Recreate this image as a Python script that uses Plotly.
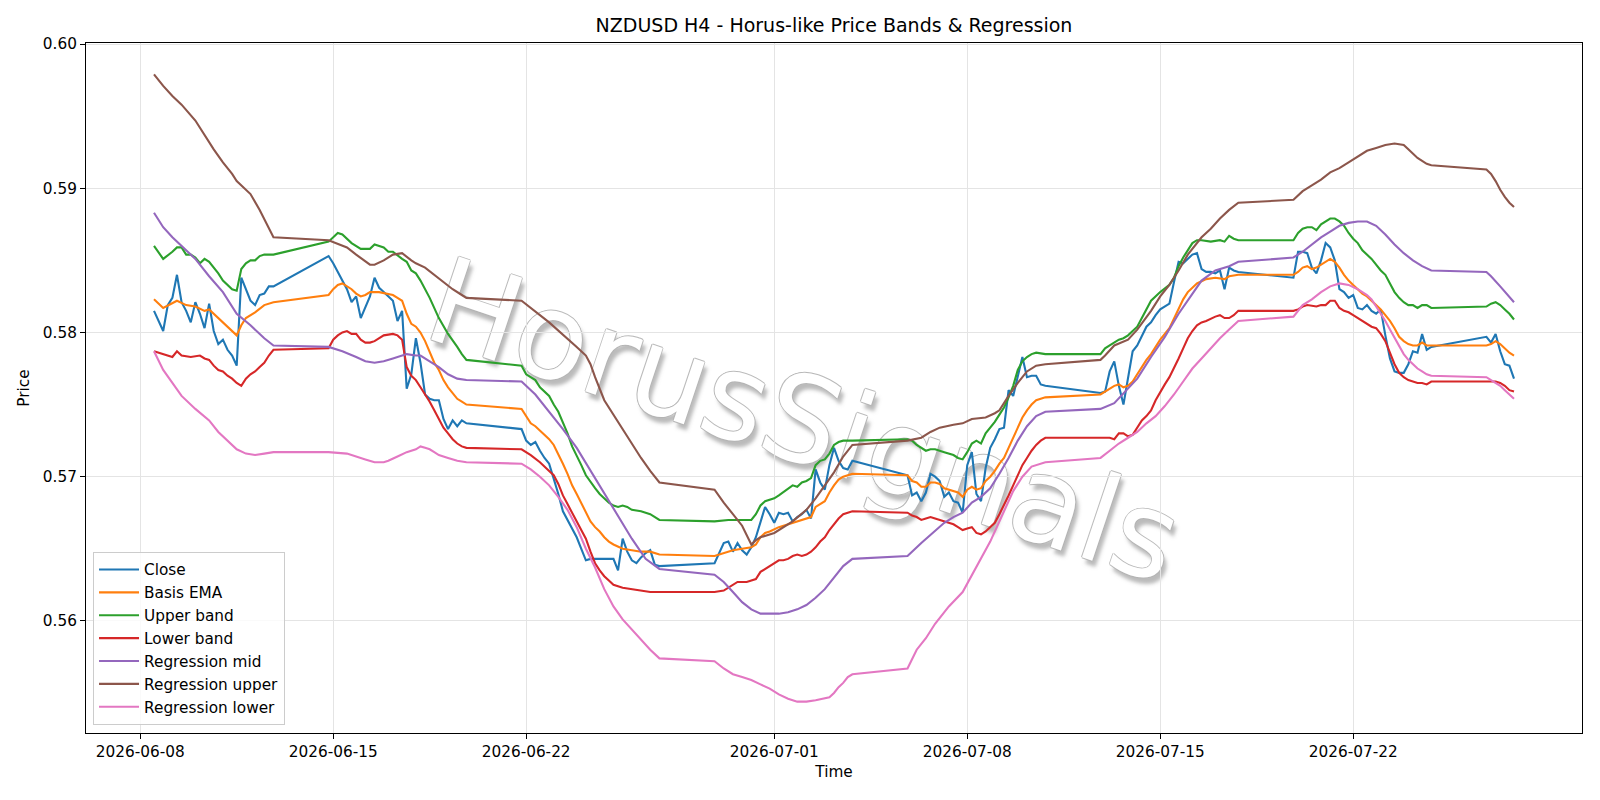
import pandas as pd
import plotly.graph_objects as go

TITLE = "NZDUSD H4 - Horus-like Price Bands & Regression"
WATERMARK = "HorusSignals"
FIRST_BAR = "2026-06-08 12:00"
LAST_BAR = "2026-07-27 20:00"
X_TICKS = ["2026-06-08", "2026-06-15", "2026-06-22", "2026-07-01",
           "2026-07-08", "2026-07-15", "2026-07-22"]
Y_TICKS = [0.56, 0.57, 0.58, 0.59, 0.60]

# H4 bar timestamps (market closed from Friday 20:00 to Sunday 20:00)
_grid = pd.date_range(FIRST_BAR, LAST_BAR, freq="4h")
_open = ~((_grid.dayofweek == 5) | ((_grid.dayofweek == 6) & (_grid.hour < 20)))
TIMES = _grid[_open]

# Close price, one value per bar, week by week
CLOSE_W1 = [0.5815, 0.5808, 0.5801, 0.5819, 0.5824, 0.5840, 0.5821, 0.5815, 0.5807, 0.5821,
            0.5813, 0.5803, 0.5820, 0.5801, 0.5792, 0.5795, 0.5788, 0.5784, 0.5777, 0.5838,
            0.5830, 0.5822, 0.5819, 0.5826, 0.5827, 0.5832, 0.5832]
CLOSE_W2 = [0.5853, 0.5848, 0.5842, 0.5836, 0.5830, 0.5821, 0.5825, 0.5810, 0.5817, 0.5825,
            0.5838, 0.5831, 0.5828, 0.5825, 0.5822, 0.5808, 0.5815, 0.5761, 0.5771, 0.5796,
            0.5779, 0.5757, 0.5754, 0.5753, 0.5753, 0.5740, 0.5733, 0.5739, 0.5735, 0.5739, 0.5737]
CLOSE_W3 = [0.5733, 0.5725, 0.5722, 0.5724, 0.5718, 0.5713, 0.5709, 0.5699, 0.5688, 0.5676,
            0.5670, 0.5664, 0.5658, 0.5650, 0.5642, 0.5643, 0.5643, 0.5643, 0.5643, 0.5643,
            0.5643, 0.5635, 0.5657, 0.5648, 0.5642, 0.5640, 0.5644, 0.5647, 0.5649, 0.5639, 0.5638]
CLOSE_W4 = [0.5640, 0.5647, 0.5654, 0.5655, 0.5648, 0.5654, 0.5649, 0.5646, 0.5651, 0.5658,
            0.5669, 0.5679, 0.5674, 0.5668, 0.5675, 0.5674, 0.5675, 0.5669, 0.5672, 0.5674,
            0.5677, 0.5671, 0.5705, 0.5696, 0.5691, 0.5708, 0.5720, 0.5711, 0.5706, 0.5705, 0.5711]
CLOSE_W5 = [0.5701, 0.5687, 0.5689, 0.5683, 0.5689, 0.5702, 0.5700, 0.5697, 0.5686, 0.5689,
            0.5683, 0.5682, 0.5675, 0.5708, 0.5717, 0.5688, 0.5683, 0.5706, 0.5720, 0.5726,
            0.5733, 0.5734, 0.5760, 0.5756, 0.5769, 0.5783, 0.5769, 0.5770, 0.5770, 0.5764, 0.5763]
CLOSE_W6 = [0.5758, 0.5759, 0.5773, 0.5780, 0.5763, 0.5750, 0.5770, 0.5787, 0.5791, 0.5798,
            0.5804, 0.5807, 0.5812, 0.5816, 0.5818, 0.5820, 0.5835, 0.5849, 0.5848, 0.5851,
            0.5854, 0.5855, 0.5844, 0.5842, 0.5842, 0.5841, 0.5843, 0.5830, 0.5845, 0.5843, 0.5842]
CLOSE_W7 = [0.5838, 0.5856, 0.5856, 0.5855, 0.5845, 0.5841, 0.5850, 0.5862, 0.5859, 0.5850,
            0.5830, 0.5828, 0.5824, 0.5826, 0.5817, 0.5816, 0.5819, 0.5815, 0.5813, 0.5816,
            0.5798, 0.5782, 0.5773, 0.5772, 0.5772, 0.5778, 0.5787, 0.5786, 0.5799, 0.5788, 0.5790]
CLOSE_W8 = [0.5797, 0.5793, 0.5799, 0.5787, 0.5778, 0.5777, 0.5768]
CLOSE = CLOSE_W1 + CLOSE_W2 + CLOSE_W3 + CLOSE_W4 + CLOSE_W5 + CLOSE_W6 + CLOSE_W7 + CLOSE_W8

# Indicator lines, read as (bar number, value) vertices
BASIS_EMA = [(0, 0.5823), (2, 0.5817), (5, 0.5822), (7, 0.5819), (9, 0.5818), (11, 0.5815), (12, 0.5816),
             (14, 0.5810), (16, 0.5804), (18, 0.5798), (19, 0.5805), (20, 0.5810), (22, 0.5814), (24, 0.5819),
             (26, 0.5821), (27, 0.5826), (28, 0.5830), (29, 0.5833), (30, 0.5834), (31, 0.5832), (32, 0.5830),
             (33, 0.5827), (34, 0.5825), (35, 0.5826), (36, 0.5828), (38, 0.5828), (40, 0.5827), (41, 0.5826),
             (42, 0.5824), (43, 0.5822), (44, 0.5813), (45, 0.5806), (46, 0.5804), (47, 0.5800), (48, 0.5794),
             (49, 0.5786), (50, 0.5779), (51, 0.5774), (52, 0.5767), (53, 0.5762), (54, 0.5758), (55, 0.5754),
             (56, 0.5752), (57, 0.5750), (58, 0.5747), (59, 0.5742), (60, 0.5737), (61, 0.5735), (62, 0.5732),
             (63, 0.5729), (64, 0.5726), (65, 0.5722), (66, 0.5716), (67, 0.5709), (68, 0.5702), (69, 0.5694),
             (70, 0.5688), (71, 0.5682), (72, 0.5675), (73, 0.5669), (74, 0.5665), (75, 0.5662), (76, 0.5658),
             (77, 0.5655), (78, 0.5653), (80, 0.5650), (82, 0.5649), (84, 0.5648), (86, 0.5648), (88, 0.5646),
             (89, 0.5645), (91, 0.5647), (93, 0.5649), (95, 0.5650), (97, 0.5651), (98, 0.5653), (99, 0.5658),
             (100, 0.5661), (101, 0.5662), (103, 0.5665), (105, 0.5667), (107, 0.5669), (109, 0.5671),
             (110, 0.5672), (111, 0.5679), (112, 0.5681), (113, 0.5683), (114, 0.5689), (115, 0.5694),
             (116, 0.5698), (117, 0.5700), (118, 0.5701), (119, 0.5702), (120, 0.5701), (121, 0.5697),
             (122, 0.5696), (123, 0.5693), (124, 0.5693), (125, 0.5696), (126, 0.5696), (127, 0.5695),
             (128, 0.5692), (129, 0.5691), (130, 0.5690), (131, 0.5689), (132, 0.5686), (133, 0.5691),
             (134, 0.5693), (135, 0.5691), (136, 0.5692), (137, 0.5697), (138, 0.5700), (139, 0.5704),
             (140, 0.5709), (141, 0.5713), (142, 0.5720), (143, 0.5727), (144, 0.5733), (145, 0.5741),
             (146, 0.5746), (147, 0.5750), (148, 0.5753), (149, 0.5754), (150, 0.5755), (151, 0.5757),
             (152, 0.5759), (153, 0.5761), (154, 0.5763), (155, 0.5764), (156, 0.5762), (157, 0.5763),
             (158, 0.5766), (159, 0.5771), (160, 0.5776), (161, 0.5781), (162, 0.5785), (164, 0.5795),
             (166, 0.5803), (167, 0.5810), (168, 0.5817), (169, 0.5823), (170, 0.5828), (171, 0.5831),
             (172, 0.5834), (174, 0.5837), (176, 0.5838), (178, 0.5837), (179, 0.5839), (181, 0.5840),
             (182, 0.5840), (183, 0.5842), (184, 0.5845), (185, 0.5846), (186, 0.5844), (187, 0.5845),
             (188, 0.5847), (189, 0.5849), (190, 0.5851), (191, 0.5849), (192, 0.5845), (193, 0.5840),
             (194, 0.5836), (195, 0.5833), (196, 0.5830), (197, 0.5827), (198, 0.5825), (199, 0.5822),
             (200, 0.5819), (201, 0.5816), (202, 0.5812), (203, 0.5808), (204, 0.5803), (205, 0.5797),
             (206, 0.5794), (207, 0.5792), (208, 0.5791), (209, 0.5791), (210, 0.5793), (211, 0.5791),
             (212, 0.5791), (213, 0.5791), (214, 0.5792), (215, 0.5794), (216, 0.5792), (217, 0.5789),
             (218, 0.5786), (219, 0.5784)]

UPPER_BAND = [(0, 0.5860), (2, 0.5851), (4, 0.5856), (5, 0.5859), (6, 0.5859), (7, 0.5854), (8, 0.5854),
              (9, 0.5852), (10, 0.5848), (11, 0.5851), (12, 0.5849), (13, 0.5845), (14, 0.5841), (15, 0.5836),
              (16, 0.5833), (17, 0.5830), (18, 0.5829), (19, 0.5844), (20, 0.5848), (21, 0.5850), (22, 0.5850),
              (23, 0.5853), (24, 0.5854), (26, 0.5854), (27, 0.5863), (29, 0.5869), (30, 0.5868), (32, 0.5862),
              (34, 0.5858), (36, 0.5858), (37, 0.5861), (38, 0.5860), (39, 0.5859), (40, 0.5856), (41, 0.5856),
              (43, 0.5851), (44, 0.5849), (45, 0.5843), (46, 0.5841), (47, 0.5836), (49, 0.5824), (51, 0.5810),
              (53, 0.5799), (55, 0.5790), (56, 0.5785), (57, 0.5781), (58, 0.5777), (59, 0.5771), (61, 0.5767),
              (62, 0.5762), (64, 0.5756), (65, 0.5750), (66, 0.5745), (68, 0.5730), (69, 0.5721), (71, 0.5708),
              (72, 0.5701), (74, 0.5692), (75, 0.5688), (77, 0.5682), (78, 0.5680), (79, 0.5679), (80, 0.5680),
              (81, 0.5679), (82, 0.5677), (84, 0.5676), (86, 0.5674), (88, 0.5670), (89, 0.5669), (92, 0.5670),
              (95, 0.5670), (97, 0.5670), (98, 0.5674), (99, 0.5680), (100, 0.5683), (102, 0.5685),
              (103, 0.5687), (105, 0.5692), (106, 0.5694), (107, 0.5693), (108, 0.5696), (109, 0.5697),
              (110, 0.5699), (111, 0.5708), (112, 0.5711), (113, 0.5712), (114, 0.5716), (115, 0.5722),
              (116, 0.5724), (117, 0.5725), (119, 0.5725), (120, 0.5726), (121, 0.5725), (122, 0.5722),
              (123, 0.5720), (124, 0.5718), (125, 0.5719), (126, 0.5719), (128, 0.5717), (130, 0.5715),
              (131, 0.5713), (132, 0.5712), (133, 0.5717), (134, 0.5723), (135, 0.5725), (136, 0.5723),
              (137, 0.5730), (138, 0.5734), (139, 0.5738), (140, 0.5743), (141, 0.5748), (142, 0.5755),
              (143, 0.5763), (144, 0.5774), (145, 0.5780), (146, 0.5783), (147, 0.5785), (148, 0.5786),
              (150, 0.5785), (151, 0.5785), (152, 0.5789), (153, 0.5791), (154, 0.5793), (155, 0.5795),
              (156, 0.5796), (157, 0.5798), (158, 0.5801), (159, 0.5804), (160, 0.5810), (161, 0.5816),
              (162, 0.5822), (164, 0.5828), (166, 0.5833), (167, 0.5838), (168, 0.5846), (169, 0.5852),
              (170, 0.5857), (171, 0.5862), (172, 0.5864), (173, 0.5864), (175, 0.5863), (177, 0.5864),
              (178, 0.5863), (179, 0.5867), (180, 0.5865), (181, 0.5864), (182, 0.5864), (183, 0.5869),
              (184, 0.5872), (185, 0.5873), (186, 0.5873), (187, 0.5871), (188, 0.5875), (189, 0.5877),
              (190, 0.5879), (191, 0.5879), (192, 0.5877), (193, 0.5874), (194, 0.5869), (195, 0.5865),
              (196, 0.5862), (197, 0.5857), (199, 0.5851), (201, 0.5843), (202, 0.5840), (203, 0.5834),
              (204, 0.5828), (205, 0.5824), (206, 0.5821), (207, 0.5819), (208, 0.5819), (209, 0.5817),
              (210, 0.5819), (211, 0.5819), (212, 0.5817), (213, 0.5818), (214, 0.5820), (215, 0.5821),
              (216, 0.5819), (217, 0.5816), (218, 0.5813), (219, 0.5809)]

LOWER_BAND = [(0, 0.5787), (2, 0.5785), (4, 0.5783), (5, 0.5787), (6, 0.5784), (8, 0.5783), (10, 0.5784),
              (11, 0.5782), (12, 0.5781), (13, 0.5777), (14, 0.5774), (15, 0.5773), (16, 0.5770), (17, 0.5768),
              (18, 0.5765), (19, 0.5763), (20, 0.5768), (21, 0.5771), (22, 0.5773), (23, 0.5776), (24, 0.5779),
              (25, 0.5784), (26, 0.5788), (27, 0.5789), (28, 0.5795), (29, 0.5798), (30, 0.5800), (31, 0.5801),
              (32, 0.5799), (33, 0.5799), (34, 0.5795), (35, 0.5793), (36, 0.5793), (37, 0.5794), (38, 0.5796),
              (39, 0.5798), (41, 0.5799), (42, 0.5798), (43, 0.5795), (44, 0.5776), (45, 0.5770), (46, 0.5767),
              (47, 0.5762), (48, 0.5757), (49, 0.5752), (50, 0.5746), (51, 0.5740), (52, 0.5734), (53, 0.5730),
              (54, 0.5726), (55, 0.5723), (56, 0.5721), (57, 0.5720), (58, 0.5719), (60, 0.5715), (62, 0.5710),
              (64, 0.5704), (65, 0.5701), (66, 0.5695), (67, 0.5687), (68, 0.5681), (69, 0.5675), (70, 0.5670),
              (71, 0.5664), (72, 0.5657), (73, 0.5648), (74, 0.5640), (75, 0.5635), (76, 0.5631), (77, 0.5628),
              (78, 0.5625), (80, 0.5623), (82, 0.5622), (84, 0.5621), (86, 0.5620), (88, 0.5620), (89, 0.5620),
              (91, 0.5621), (92, 0.5623), (93, 0.5625), (94, 0.5627), (96, 0.5627), (97, 0.5628), (98, 0.5629),
              (99, 0.5634), (100, 0.5636), (101, 0.5638), (102, 0.5640), (103, 0.5642), (104, 0.5642),
              (105, 0.5643), (106, 0.5645), (107, 0.5646), (108, 0.5645), (109, 0.5646), (110, 0.5648),
              (111, 0.5651), (112, 0.5655), (113, 0.5658), (114, 0.5663), (115, 0.5667), (116, 0.5671),
              (117, 0.5674), (118, 0.5675), (119, 0.5676), (120, 0.5675), (121, 0.5673), (122, 0.5672),
              (123, 0.5670), (124, 0.5671), (125, 0.5672), (126, 0.5671), (127, 0.5670), (128, 0.5669),
              (129, 0.5668), (130, 0.5667), (131, 0.5665), (132, 0.5663), (133, 0.5664), (134, 0.5665),
              (135, 0.5661), (136, 0.5660), (137, 0.5662), (138, 0.5665), (139, 0.5668), (140, 0.5674),
              (141, 0.5680), (142, 0.5687), (143, 0.5694), (144, 0.5701), (145, 0.5708), (146, 0.5713),
              (147, 0.5718), (148, 0.5722), (149, 0.5725), (150, 0.5727), (151, 0.5727), (153, 0.5727),
              (154, 0.5726), (155, 0.5730), (156, 0.5730), (157, 0.5728), (158, 0.5729), (159, 0.5734),
              (160, 0.5739), (161, 0.5742), (162, 0.5746), (163, 0.5753), (164, 0.5759), (165, 0.5764),
              (166, 0.5769), (167, 0.5775), (168, 0.5782), (169, 0.5789), (170, 0.5796), (171, 0.5801),
              (172, 0.5805), (173, 0.5807), (174, 0.5808), (176, 0.5811), (177, 0.5812), (178, 0.5810),
              (179, 0.5810), (180, 0.5812), (181, 0.5815), (182, 0.5815), (183, 0.5816), (184, 0.5818),
              (185, 0.5819), (187, 0.5818), (188, 0.5819), (189, 0.5819), (190, 0.5822), (191, 0.5822),
              (192, 0.5817), (193, 0.5815), (194, 0.5814), (195, 0.5812), (196, 0.5810), (197, 0.5808),
              (198, 0.5806), (199, 0.5804), (200, 0.5803), (201, 0.5799), (202, 0.5794), (203, 0.5786),
              (204, 0.5778), (205, 0.5772), (206, 0.5769), (207, 0.5767), (208, 0.5766), (209, 0.5765),
              (210, 0.5765), (211, 0.5764), (212, 0.5766), (213, 0.5766), (215, 0.5766), (216, 0.5765),
              (217, 0.5763), (218, 0.5760), (219, 0.5759)]

REG_MID = [(0, 0.5883), (2, 0.5873), (4, 0.5866), (6, 0.5860), (9, 0.5851), (12, 0.5839), (15, 0.5828),
           (18, 0.5813), (21, 0.5805), (24, 0.5796), (26, 0.5791), (27, 0.5790), (30, 0.5787), (33, 0.5783),
           (35, 0.5780), (37, 0.5779), (39, 0.5780), (41, 0.5782), (43, 0.5784), (44, 0.5785), (46, 0.5784),
           (47, 0.5784), (49, 0.5780), (51, 0.5776), (53, 0.5771), (55, 0.5768), (57, 0.5767), (58, 0.5766),
           (61, 0.5757), (64, 0.5745), (67, 0.5733), (70, 0.5720), (73, 0.5704), (76, 0.5688), (79, 0.5672),
           (82, 0.5657), (85, 0.5643), (88, 0.5636), (89, 0.5632), (91, 0.5627), (93, 0.5620), (95, 0.5613),
           (97, 0.5608), (99, 0.5605), (101, 0.5605), (103, 0.5605), (105, 0.5606), (107, 0.5608),
           (109, 0.5611), (111, 0.5616), (113, 0.5622), (115, 0.5630), (117, 0.5638), (119, 0.5643),
           (120, 0.5645), (123, 0.5654), (126, 0.5662), (128, 0.5668), (130, 0.5672), (132, 0.5675),
           (134, 0.5682), (136, 0.5686), (138, 0.5692), (140, 0.5702), (142, 0.5713), (144, 0.5725),
           (146, 0.5735), (148, 0.5742), (150, 0.5745), (151, 0.5747), (154, 0.5751), (157, 0.5761),
           (159, 0.5768), (162, 0.5783), (165, 0.5797), (168, 0.5813), (171, 0.5827), (173, 0.5836),
           (176, 0.5843), (179, 0.5846), (181, 0.5849), (182, 0.5852), (184, 0.5856), (186, 0.5861),
           (188, 0.5866), (190, 0.5870), (192, 0.5874), (194, 0.5876), (196, 0.5877), (198, 0.5877),
           (200, 0.5874), (202, 0.5868), (204, 0.5861), (206, 0.5855), (208, 0.5850), (210, 0.5846),
           (212, 0.5843), (213, 0.5842), (214, 0.5839), (216, 0.5832), (218, 0.5825), (219, 0.5821)]

REG_UPPER = [(0, 0.5979), (2, 0.5971), (4, 0.5964), (6, 0.5958), (9, 0.5947), (11, 0.5937), (13, 0.5927),
             (15, 0.5918), (17, 0.5910), (18, 0.5905), (19, 0.5902), (21, 0.5896), (23, 0.5885), (26, 0.5866),
             (27, 0.5864), (31, 0.5859), (33, 0.5854), (35, 0.5849), (36, 0.5847), (37, 0.5847), (39, 0.5850),
             (41, 0.5854), (43, 0.5855), (45, 0.5850), (46, 0.5848), (48, 0.5845), (50, 0.5840), (52, 0.5835),
             (54, 0.5830), (56, 0.5826), (57, 0.5824), (58, 0.5822), (64, 0.5807), (70, 0.5790), (72, 0.5784),
             (73, 0.5778), (74, 0.5769), (76, 0.5753), (78, 0.5743), (80, 0.5733), (82, 0.5723), (84, 0.5713),
             (86, 0.5704), (88, 0.5696), (89, 0.5691), (91, 0.5682), (93, 0.5674), (95, 0.5666), (97, 0.5653),
             (98, 0.5656), (99, 0.5658), (101, 0.5660), (102, 0.5661), (106, 0.5669), (109, 0.5677),
             (111, 0.5685), (113, 0.5694), (115, 0.5703), (117, 0.5714), (119, 0.5722), (120, 0.5725),
             (123, 0.5727), (125, 0.5731), (127, 0.5734), (130, 0.5736), (132, 0.5737), (134, 0.5740),
             (137, 0.5741), (139, 0.5744), (140, 0.5746), (142, 0.5756), (144, 0.5765), (146, 0.5773),
             (148, 0.5777), (150, 0.5778), (151, 0.5781), (152, 0.5784), (154, 0.5791), (157, 0.5795),
             (159, 0.5802), (162, 0.5815), (164, 0.5825), (166, 0.5833), (168, 0.5843), (170, 0.5854),
             (172, 0.5862), (173, 0.5866), (175, 0.5872), (177, 0.5879), (179, 0.5885), (181, 0.5890),
             (182, 0.5892), (184, 0.5898), (186, 0.5902), (188, 0.5906), (190, 0.5911), (192, 0.5914),
             (194, 0.5918), (196, 0.5922), (198, 0.5926), (200, 0.5928), (202, 0.5930), (204, 0.5931),
             (206, 0.5930), (207, 0.5927), (208, 0.5924), (209, 0.5921), (210, 0.5919), (211, 0.5917),
             (212, 0.5916), (213, 0.5913), (214, 0.5910), (215, 0.5905), (216, 0.5899), (217, 0.5894),
             (218, 0.5890), (219, 0.5887)]

REG_LOWER = [(0, 0.5787), (2, 0.5774), (4, 0.5765), (6, 0.5756), (9, 0.5747), (12, 0.5739), (14, 0.5731),
             (18, 0.5719), (20, 0.5716), (22, 0.5715), (24, 0.5716), (26, 0.5717), (27, 0.5717), (31, 0.5716),
             (35, 0.5712), (37, 0.5710), (39, 0.5710), (40, 0.5711), (42, 0.5714), (44, 0.5717), (46, 0.5719),
             (47, 0.5721), (48, 0.5720), (49, 0.5719), (50, 0.5717), (51, 0.5715), (53, 0.5713), (55, 0.5711),
             (57, 0.5710), (58, 0.5709), (60, 0.5705), (62, 0.5700), (64, 0.5694), (66, 0.5686), (68, 0.5677),
             (70, 0.5665), (72, 0.5650), (74, 0.5637), (76, 0.5622), (78, 0.5610), (80, 0.5601), (82, 0.5594),
             (84, 0.5587), (86, 0.5580), (88, 0.5574), (89, 0.5572), (91, 0.5567), (93, 0.5563), (95, 0.5561),
             (97, 0.5559), (99, 0.5556), (101, 0.5553), (103, 0.5549), (105, 0.5546), (107, 0.5544),
             (109, 0.5544), (111, 0.5545), (113, 0.5546), (114, 0.5547), (115, 0.5550), (116, 0.5554),
             (117, 0.5557), (118, 0.5561), (119, 0.5563), (120, 0.5567), (122, 0.5580), (124, 0.5588),
             (126, 0.5598), (129, 0.5610), (132, 0.5620), (135, 0.5638), (138, 0.5655), (141, 0.5676),
             (143, 0.5690), (145, 0.5700), (147, 0.5707), (150, 0.5710), (151, 0.5713), (153, 0.5718),
             (155, 0.5723), (157, 0.5727), (159, 0.5731), (161, 0.5737), (163, 0.5742), (165, 0.5749),
             (167, 0.5757), (169, 0.5766), (171, 0.5775), (173, 0.5782), (175, 0.5789), (177, 0.5796),
             (179, 0.5802), (181, 0.5808), (182, 0.5811), (184, 0.5819), (186, 0.5823), (188, 0.5828),
             (190, 0.5832), (192, 0.5834), (194, 0.5833), (196, 0.5830), (198, 0.5826), (199, 0.5823),
             (200, 0.5818), (201, 0.5813), (202, 0.5808), (203, 0.5802), (204, 0.5796), (205, 0.5790),
             (206, 0.5785), (207, 0.5781), (208, 0.5778), (209, 0.5775), (210, 0.5773), (211, 0.5771),
             (212, 0.5770), (213, 0.5769), (214, 0.5767), (215, 0.5765), (216, 0.5763), (217, 0.5760),
             (218, 0.5757), (219, 0.5754)]

SERIES = [
    ("Close", "#1f77b4", None),
    ("Basis EMA", "#ff7f0e", BASIS_EMA),
    ("Upper band", "#2ca02c", UPPER_BAND),
    ("Lower band", "#d62728", LOWER_BAND),
    ("Regression mid", "#9467bd", REG_MID),
    ("Regression upper", "#8c564b", REG_UPPER),
    ("Regression lower", "#e377c2", REG_LOWER),
]

FONT = "DejaVu Sans"
BASE = 15.3

fig = go.Figure()
all_vals = []
for name, color, pts in SERIES:
    if pts is None:
        xs, ys = list(TIMES), CLOSE
    else:
        xs = [TIMES[i] for i, _ in pts]
        ys = [v for _, v in pts]
    all_vals.extend(ys)
    fig.add_trace(go.Scatter(x=xs, y=ys, mode="lines", name=name,
                             line=dict(color=color, width=2.1)))

# matplotlib-like 5% margins
t0, t1 = TIMES[0], TIMES[-1]
pad = (t1 - t0) * 0.05
ymin, ymax = min(all_vals), max(all_vals)
ypad = (ymax - ymin) * 0.05

axis_common = dict(showline=True, linecolor="black", linewidth=1.1, mirror=True,
                   ticks="outside", ticklen=5, tickwidth=1.1, tickcolor="black",
                   showgrid=True, gridcolor="#e4e4e4", gridwidth=1, zeroline=False,
                   tickfont=dict(family=FONT, size=BASE, color="black"))

fig.update_xaxes(type="date", range=[t0 - pad, t1 + pad],
                 tickvals=pd.to_datetime(X_TICKS), ticktext=X_TICKS,
                 title=dict(text="Time", standoff=5,
                            font=dict(family=FONT, size=BASE, color="black")),
                 **axis_common)
fig.update_yaxes(range=[ymin - ypad, ymax + ypad], tickvals=Y_TICKS, tickformat=".2f",
                 title=dict(text="Price", standoff=9,
                            font=dict(family=FONT, size=BASE, color="black")),
                 **axis_common)

# watermark: drawn beneath the data lines
OUTLINE = "rgba(180,180,180,0.9)"
fig.add_shape(type="rect", xref="paper", yref="paper", x0=0.472, x1=0.492, y0=0.455, y1=0.475,
              line=dict(width=0), fillcolor="rgba(0,0,0,0)", layer="below",
              label=dict(text=WATERMARK, textangle=18.5, textposition="middle center",
                         font=dict(family=FONT, size=120, color="rgba(255,255,255,1)",
                                   shadow=(f"-1px 0 0 {OUTLINE}, 1px 0 0 {OUTLINE}, "
                                           f"0 -1px 0 {OUTLINE}, 0 1px 0 {OUTLINE}, "
                                           "5px 5px 4px rgba(120,120,120,0.5)"))))

fig.update_layout(
    width=1600, height=800,
    margin=dict(l=86, r=18, t=43, b=67, autoexpand=False),
    paper_bgcolor="white", plot_bgcolor="white",
    font=dict(family=FONT, size=BASE, color="black"),
    title=dict(text=TITLE, x=0.5, xref="paper", xanchor="center",
               y=1 - 25.5 / 800, yref="container", yanchor="middle",
               font=dict(family=FONT, size=19, color="black")),
    legend=dict(x=0.0047, y=0.0116, xanchor="left", yanchor="bottom",
                bgcolor="rgba(255,255,255,0.8)", bordercolor="#cccccc", borderwidth=1,
                font=dict(family=FONT, size=BASE, color="black"),
                tracegroupgap=0, itemwidth=40),
)

fig.write_html("out.html")
